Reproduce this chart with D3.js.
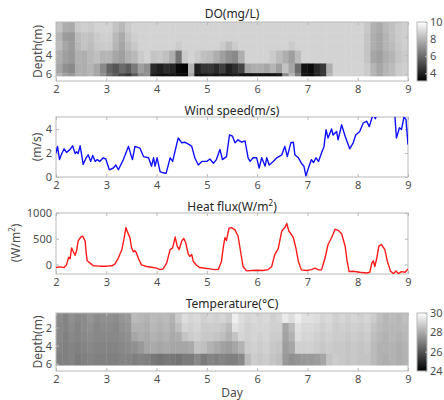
<!DOCTYPE html>
<html><head><meta charset="utf-8">
<script src="https://cdn.jsdelivr.net/npm/d3@7"></script>
<style>body{margin:0;background:#fff}svg{display:block}</style>
</head><body><svg id="c" width="444" height="400"></svg>
<script>
// ---------------- data ----------------
const dayTicks=[2,3,4,5,6,7,8,9];
const depthTicks=[2,4,6];
const windTicks=[0,2,4];
const heatTicks=[0,500,1000];
const doCbTicks=[4,6,8,10];
const tempCbTicks=[24,26,28,30];
const gridStart=2, gridStep=0.125; // 3-hourly columns from day 2
const doEdges=[0.4,1.5,2.5,3.5,4.9,5.95,6.25];
const tempEdges=[0.4,1.5,2.5,3.5,4.9,6.15];

const doRow0=[8.4,7.8,7.7,8.6,8.7,8.6,8.8,8.8, 8.8,8.4,8.1,8.6,8.8,8.8,8.8,8.8, 8.8,8.8,8.8,8.8,8.8,8.8,8.8,8.8, 8.8,8.8,8.8,8.8,8.8,8.8,8.8,8.8, 8.8,8.8,8.8,8.8,8.8,8.8,8.8,8.8, 8.8,8.8,8.8,8.8,8.8,8.8,8.8,8.8, 8.8,8.5,7.9,7.7,8.1,8.3,8.6,8.7];
const doRow1=[8.0,7.3,7.2,8.2,8.4,8.3,8.6,8.7, 8.7,8.1,7.7,8.4,8.7,8.8,8.8,8.8, 8.8,8.8,8.8,8.8,8.8,8.8,8.8,8.8, 8.8,8.8,8.8,8.8,8.8,8.8,8.8,8.8, 8.8,8.8,8.8,8.8,8.8,8.8,8.8,8.8, 8.8,8.8,8.8,8.8,8.8,8.8,8.8,8.8, 8.8,8.4,7.8,7.6,8.0,8.3,8.6,8.7];
const doRow2=[8.2,7.6,7.3,8.1,8.4,8.2,8.5,8.6, 8.6,8.0,7.6,8.2,8.5,8.8,8.8,8.8, 8.8,8.8,8.8,8.6,8.8,8.8,8.8,8.8, 8.8,8.8,8.6,8.2,8.6,8.8,8.8,8.8, 8.8,8.8,8.8,8.8,8.8,8.6,8.8,8.8, 8.8,8.8,8.8,8.8,8.8,8.8,8.8,8.8, 8.8,8.4,7.8,7.6,8.0,8.2,8.5,8.7];
const doRow3=[7.8,7.4,7.2,7.9,7.8,8.1,8.3,8.0, 8.0,7.6,7.4,7.9,8.1,8.6,8.8,8.4, 8.5,8.3,7.8,6.2,8.6,8.8,8.6,8.3, 8.2,7.8,7.4,7.0,6.8,7.8,8.8,8.8, 8.8,8.8,8.6,8.2,7.8,7.4,8.2,8.8, 8.8,8.8,8.8,8.8,8.8,8.8,8.8,8.8, 8.8,8.4,7.6,7.4,7.8,8.0,8.4,8.6];
const doRow4=[7.6,7.0,6.8,7.8,7.8,8.0,7.6,6.8, 5.8,5.4,6.0,5.6,6.4,7.4,7.0,4.2, 3.9,4.3,4.1,3.3,3.2,8.0,4.0,4.5, 4.6,4.2,4.8,4.0,4.4,4.9,7.6,7.8, 7.8,7.6,8.0,7.4,8.4,7.6,6.0,3.6, 3.4,4.2,4.6,7.8,8.8,8.8,8.8,8.8, 8.8,8.6,8.0,7.6,8.0,8.2,8.6,8.7];
const doRow5=[8.0,7.4,7.2,7.8,7.8,8.0,7.6,7.0, 6.0,5.5,5.0,4.6,5.5,6.8,7.0,3.8, 3.6,3.6,3.6,3.4,3.3,7.5,3.6,3.6, 3.8,3.6,3.8,3.7,3.8,3.6,3.5,3.5, 3.5,3.5,3.6,3.8,6.8,8.0,6.5,3.6, 3.4,4.0,4.5,8.0,8.8,8.8,8.8,8.8, 8.8,8.6,8.0,7.6,8.0,8.2,8.6,8.7];

const tempRow0=[27.3,27.1,27.4,27.2,27.3,27.5,27.3,27.4, 27.4,27.3,27.5,27.6,28.4,28.3,28.2,28.4, 28.3,28.4,28.2,28.8,29.2,29.0,29.1,28.9, 29.0,28.9,29.0,28.8,29.6,29.2,29.0,29.1, 29.0,29.1,28.9,29.0,29.5,29.2,29.6,29.3, 29.3,29.2,29.0,29.1,28.9,29.0,28.9,29.0, 28.9,29.0,28.8,28.5,28.3,28.4,28.3,28.5];
const tempRow1=[27.2,27.1,27.3,27.1,27.3,27.4,27.2,27.3, 27.3,27.2,27.4,27.5,28.2,28.2,28.1,28.3, 28.2,28.3,28.1,28.5,29.0,28.9,29.0,28.8, 28.8,28.8,28.7,28.4,29.3,29.1,28.9,29.0, 29.0,29.0,28.9,28.9,27.9,28.4,29.3,29.1, 29.1,29.0,28.9,29.0,28.8,28.9,28.8,28.9, 28.8,28.9,28.6,28.4,28.3,28.3,28.3,28.4];
const tempRow2=[27.2,27.0,27.2,27.1,27.2,27.3,27.2,27.2, 27.2,27.2,27.3,27.4,27.9,28.1,28.0,28.2, 28.1,28.2,28.0,28.1,28.6,28.8,28.9,28.7, 28.7,28.6,28.5,28.2,28.6,29.0,28.9,29.0, 28.9,29.0,28.8,28.8,27.8,28.2,29.2,29.0, 29.0,28.9,28.8,28.9,28.8,28.8,28.7,28.8, 28.7,28.8,28.5,28.3,28.2,28.3,28.2,28.3];
const tempRow3=[27.1,27.0,27.1,27.0,27.1,27.2,27.1,27.1, 27.1,27.1,27.2,27.3,27.4,27.6,27.9,28.0, 27.9,28.0,27.9,27.9,27.9,28.0,28.6,28.5, 28.2,28.0,27.8,27.7,27.9,28.2,28.8,28.9, 28.8,28.9,28.7,28.6,27.7,27.9,28.9,28.9, 28.9,28.8,28.7,28.8,28.7,28.7,28.6,28.7, 28.6,28.7,28.4,28.2,28.2,28.2,28.1,28.2];
const tempRow4=[27.0,27.0,27.1,26.9,27.0,27.1,27.0,27.0, 27.0,27.0,27.1,27.1,27.0,27.1,27.0,26.8, 26.7,26.8,26.8,26.7,26.9,26.9,27.2,26.9, 27.1,27.0,27.1,27.0,27.0,27.2,28.4,28.8, 28.7,28.8,28.6,28.5,27.6,27.4,27.5,27.6, 27.6,27.7,27.9,28.6,28.8,28.7,28.6,28.7, 28.6,28.6,28.4,28.2,28.1,28.2,28.1,28.2];

const windDay=[2.00,2.03,2.07,2.11,2.16,2.21,2.28,2.33,2.38,2.41,2.44,2.48,2.51,2.54,2.60,2.64,2.69,2.73,2.78,2.82,2.87,2.94,2.99,3.06,3.14,3.19,3.24,3.34,3.44,3.52,3.57,3.67,3.74,3.84,3.90,3.94,3.97,4.01,4.07,4.13,4.19,4.27,4.32,4.39,4.43,4.50,4.56,4.65,4.70,4.76,4.83,4.90,5.00,5.06,5.13,5.19,5.26,5.31,5.39,5.45,5.51,5.56,5.62,5.69,5.76,5.82,5.86,5.92,5.99,6.04,6.09,6.16,6.19,6.24,6.32,6.39,6.49,6.55,6.60,6.67,6.72,6.75,6.82,6.88,6.93,6.97,7.02,7.08,7.12,7.17,7.22,7.28,7.33,7.37,7.41,7.48,7.51,7.58,7.61,7.68,7.75,7.81,7.84,7.91,7.96,8.04,8.11,8.18,8.23,8.28,8.32,8.35,8.39,8.47,8.61,8.73,8.77,8.83,8.87,8.92,8.96,9.00];
const windSpeed=[2.0,2.55,1.45,1.9,2.35,2.05,2.3,2.6,1.95,2.1,1.95,2.6,1.85,1.05,1.6,1.85,1.3,1.8,1.3,1.45,1.3,1.6,1.5,0.6,0.75,1.0,0.6,1.45,2.55,1.45,2.55,2.4,1.7,1.6,0.9,1.6,0.9,1.6,0.45,0.35,0.3,1.6,1.3,2.55,3.25,2.85,2.9,2.7,2.55,1.6,1.0,1.3,1.3,1.5,1.15,1.45,2.3,1.45,1.7,3.5,3.4,2.85,3.1,2.9,3.0,1.6,1.3,1.6,1.6,0.75,1.6,0.9,1.6,1.0,1.3,1.6,1.85,2.55,1.7,2.85,2.9,1.85,1.6,1.15,0.9,0.1,0.75,1.45,1.2,1.6,1.3,2.0,2.55,3.95,3.25,4.0,3.5,3.8,3.1,4.35,3.4,2.7,2.35,2.85,3.5,3.8,4.5,4.65,4.2,4.9,5.2,4.85,5.3,6.0,6.2,5.6,3.25,4.1,3.95,5.0,4.8,2.7];

const heatDay=[2.00,2.08,2.16,2.21,2.25,2.28,2.31,2.34,2.38,2.41,2.44,2.49,2.53,2.58,2.60,2.62,2.68,2.74,2.87,3.01,3.11,3.17,3.24,3.31,3.35,3.39,3.42,3.47,3.50,3.54,3.57,3.60,3.64,3.70,3.80,3.90,4.00,4.07,4.13,4.20,4.27,4.32,4.37,4.41,4.45,4.50,4.54,4.58,4.63,4.66,4.70,4.73,4.80,4.86,4.96,5.06,5.16,5.23,5.29,5.33,5.36,5.39,5.44,5.49,5.56,5.62,5.67,5.72,5.79,5.89,5.99,6.12,6.22,6.29,6.35,6.42,6.49,6.55,6.59,6.63,6.67,6.72,6.77,6.82,6.88,6.98,7.08,7.15,7.22,7.28,7.35,7.41,7.48,7.55,7.61,7.68,7.75,7.79,7.83,7.91,8.04,8.18,8.24,8.28,8.31,8.34,8.38,8.42,8.47,8.54,8.59,8.65,8.71,8.76,8.81,8.87,8.94,9.00];
const heatFlux=[-60,-46,-60,-7,138,112,322,257,178,270,454,533,553,454,224,72,26,-26,-33,-33,-26,7,125,290,487,717,638,520,336,243,270,224,112,-7,-40,-53,-72,-99,-86,26,290,322,533,355,290,454,507,421,204,158,191,59,-20,-60,-72,-86,-99,-92,59,355,520,467,704,717,671,553,257,-40,-125,-118,-112,-118,-99,-40,191,309,651,717,796,651,599,520,322,59,-105,-118,-99,-72,-105,-105,125,388,520,684,664,599,355,59,-138,-132,-151,-165,-151,26,72,-40,125,355,388,290,59,-125,-178,-125,-178,-138,-151,-86];

// ---------------- drawing ----------------
const FONT='"Noto Sans", "Liberation Sans", Arial, sans-serif';
const AX='#b8b8b8', TXT='#4d4d4d', TTL='#262626';
const fmt=d3.format('d');
const svg=d3.select('#c');
const L=56,R=408;
const x=d3.scaleLinear().domain([2,9]).range([L,R]);
const P={do:[22,81],wind:[117,177],heat:[213,274],temp:[313,371]};

function styleAxis(g,labels){
  g.attr('font-family',FONT).attr('font-size',11);
  g.select('.domain').remove();
  g.selectAll('.tick line').attr('stroke',AX);
  g.selectAll('.tick text').attr('fill',TXT);
  if(!labels) g.selectAll('.tick text').remove();
}
function frame(top,bottom,y,yTicks){
  const g=svg.append('g');
  g.append('g').attr('transform',`translate(0,${bottom})`)
    .call(d3.axisBottom(x).tickValues(dayTicks).tickFormat(fmt).tickSizeInner(-3).tickSizeOuter(0).tickPadding(4))
    .call(a=>styleAxis(a,true));
  g.append('g').attr('transform',`translate(0,${top})`)
    .call(d3.axisTop(x).tickValues(dayTicks).tickSizeInner(-3).tickSizeOuter(0))
    .call(a=>styleAxis(a,false));
  g.append('g').attr('transform',`translate(${L},0)`)
    .call(d3.axisLeft(y).tickValues(yTicks).tickSizeInner(-3).tickSizeOuter(0).tickPadding(4).tickFormat(fmt))
    .call(a=>styleAxis(a,true));
  g.append('g').attr('transform',`translate(${R},0)`)
    .call(d3.axisRight(y).tickValues(yTicks).tickSizeInner(-3).tickSizeOuter(0))
    .call(a=>styleAxis(a,false));
  g.append('rect').attr('x',L).attr('y',top).attr('width',R-L).attr('height',bottom-top)
    .attr('fill','none').attr('stroke',AX).attr('stroke-width',1);
}
function title(txt,cy,sup){
  const t=svg.append('text').attr('x',(L+R)/2).attr('y',cy).attr('text-anchor','middle')
    .attr('font-family',FONT).attr('font-size',12).attr('fill',TTL);
  if(sup){t.append('tspan').text(txt[0]);t.append('tspan').attr('font-size',8).attr('dy',-5).text(sup);t.append('tspan').attr('dy',5).text(txt[1]);}
  else t.text(txt);
}
function ylabel(cx,cy,txt,sup){
  const t=svg.append('text').attr('transform',`translate(${cx},${cy}) rotate(-90)`).attr('text-anchor','middle')
    .attr('dy','0.35em').attr('font-family',FONT).attr('font-size',12).attr('fill',TXT);
  if(sup){t.append('tspan').text(txt[0]);t.append('tspan').attr('font-size',8).attr('dy',-5).text(sup);t.append('tspan').attr('dy',5).text(txt[1]);}
  else t.text(txt);
}
function heatmap(rows,edges,top,bottom,dom){
  const y=d3.scaleLinear().domain([0.4,6.8]).range([top,bottom]);
  const c=d3.scaleLinear().domain(dom).range([0,255]).clamp(true);
  const g=svg.append('g');
  rows.forEach((row,r)=>{
    row.forEach((v,i)=>{
      const x0=x(gridStart+i*gridStep), x1=x(gridStart+(i+1)*gridStep);
      const g0=Math.round(c(v));
      g.append('rect').attr('x',x0).attr('width',x1-x0+0.4)
        .attr('y',y(edges[r])).attr('height',y(edges[r+1])-y(edges[r])+0.4)
        .attr('fill',`rgb(${g0},${g0},${g0})`);
    });
  });
  return y;
}
function colorbar(top,bottom,dom,ticks,id){
  const grad=svg.append('defs').append('linearGradient').attr('id',id)
    .attr('x1',0).attr('y1',1).attr('x2',0).attr('y2',0);
  grad.append('stop').attr('offset',0).attr('stop-color','#000');
  grad.append('stop').attr('offset',1).attr('stop-color','#fff');
  const cx0=417,cx1=427;
  svg.append('rect').attr('x',cx0).attr('y',top).attr('width',cx1-cx0).attr('height',bottom-top)
    .attr('fill',`url(#${id})`).attr('stroke',AX);
  const s=d3.scaleLinear().domain(dom).range([bottom,top]);
  svg.append('g').attr('transform',`translate(${cx1},0)`)
    .call(d3.axisRight(s).tickValues(ticks).tickFormat(fmt).tickSizeInner(-2).tickSizeOuter(0).tickPadding(3))
    .call(a=>styleAxis(a,true));
}

// Panel 1: DO
const yDO=heatmap([doRow0,doRow1,doRow2,doRow3,doRow4,doRow5],doEdges,P.do[0],P.do[1],[3.1,10]);
frame(P.do[0],P.do[1],yDO,depthTicks);
title('DO(mg/L)',18);
ylabel(38,(P.do[0]+P.do[1])/2,'Depth(m)');
colorbar(P.do[0],P.do[1],[3.1,10],doCbTicks,'gDO');

// Panel 2: wind
const yW=d3.scaleLinear().domain([0,5]).range([P.wind[1],P.wind[0]]);
svg.append('clipPath').attr('id','cw').append('rect').attr('x',L).attr('y',P.wind[0]).attr('width',R-L).attr('height',P.wind[1]-P.wind[0]);
frame(P.wind[0],P.wind[1],yW,windTicks);
svg.append('path').datum(windDay.map((d,i)=>[d,windSpeed[i]])).attr('clip-path','url(#cw)')
  .attr('d',d3.line().x(d=>x(d[0])).y(d=>yW(d[1]))).attr('fill','none').attr('stroke','#1010ff').attr('stroke-width',1.4).attr('stroke-linejoin','round');
title('Wind speed(m/s)',115);
ylabel(37,(P.wind[0]+P.wind[1])/2,'(m/s)');

// Panel 3: heat flux
const yH=d3.scaleLinear().domain([-185,1000]).range([P.heat[1],P.heat[0]]);
svg.append('clipPath').attr('id','ch').append('rect').attr('x',L).attr('y',P.heat[0]).attr('width',R-L).attr('height',P.heat[1]-P.heat[0]);
frame(P.heat[0],P.heat[1],yH,heatTicks);
svg.append('path').datum(heatDay.map((d,i)=>[d,heatFlux[i]])).attr('clip-path','url(#ch)')
  .attr('d',d3.line().x(d=>x(d[0])).y(d=>yH(d[1]))).attr('fill','none').attr('stroke','#ff1a1a').attr('stroke-width',1.4).attr('stroke-linejoin','round');
title(['Heat flux(W/m',')'],211,'2');
ylabel(16,243,['(W/m',')'],'2');

// Panel 4: temperature
const yT=heatmap([tempRow0,tempRow1,tempRow2,tempRow3,tempRow4],tempEdges,P.temp[0],P.temp[1],[24,30]);
frame(P.temp[0],P.temp[1],yT,depthTicks);
title('Temperature(\u00B0C)',308);
ylabel(38,(P.temp[0]+P.temp[1])/2,'Depth(m)');
colorbar(P.temp[0],P.temp[1],[24,30],tempCbTicks,'gT');
svg.append('text').attr('x',(L+R)/2).attr('y',397).attr('text-anchor','middle')
  .attr('font-family',FONT).attr('font-size',12).attr('fill',TXT).text('Day');
</script></body></html>
